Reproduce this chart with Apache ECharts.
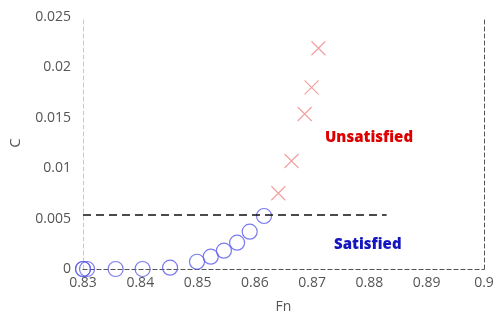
<!DOCTYPE html>
<html><head><meta charset="utf-8">
<script src="https://cdn.jsdelivr.net/npm/echarts@6/dist/echarts.min.js"></script>
<style>html,body{margin:0;padding:0;background:#fff}#c{width:499px;height:320px}</style>
</head><body><div id="c"></div>
<script>
var xTicks = [0.83, 0.84, 0.85, 0.86, 0.87, 0.88, 0.89, 0.9];
var yTicks = [0, 0.005, 0.01, 0.015, 0.02, 0.025];
var satisfiedFn = [0.83, 0.83, 0.8307, 0.8357, 0.8404, 0.8452, 0.8499, 0.8523, 0.8546, 0.8569, 0.8591, 0.8616];
var satisfiedC  = [0, 0, 0, 0, 0, 0.00013, 0.00072, 0.00122, 0.00182, 0.00261, 0.0037, 0.00526];
var unsatFn = [0.8641, 0.8664, 0.8687, 0.8699, 0.8711];
var unsatC  = [0.00751, 0.01071, 0.01538, 0.01802, 0.0219];
var limitC = 0.0054;
var limitFn = [0.83, 0.883];

var font = '"Open Sans", "Noto Sans", sans-serif';
var chart = echarts.init(document.getElementById('c'));
function zip(a, b) { return a.map(function (v, i) { return [v, b[i]]; }); }
var crossPath = 'path://M0,0L10,10M10,0L0,10';
chart.setOption({
  animation: false,
  grid: { left: 83, right: 15, top: 17, bottom: 51 },
  xAxis: [{
    type: 'value', min: 0.83, max: 0.9, interval: 0.01,
    name: 'Fn', nameLocation: 'middle', nameGap: 31,
    nameTextStyle: { color: '#555', fontSize: 14, fontFamily: font, fontWeight: 500 },
    axisLine: { show: true, lineStyle: { color: '#b0b0b0', type: [4, 3], width: 1 } },
    axisTick: { show: false }, splitLine: { show: false },
    axisLabel: { color: '#555', fontSize: 14, fontFamily: font, margin: 7, fontWeight: 500,
      formatter: function (v) { return String(+v.toFixed(2)); } }
  }, {
    type: 'value', position: 'top', min: 0.83, max: 0.9, interval: 0.01,
    axisLine: { show: true, lineStyle: { color: '#555', type: [4, 3], width: 1 } },
    axisTick: { show: false }, axisLabel: { show: false }, splitLine: { show: false }
  }],
  yAxis: [{
    type: 'value', min: 0, max: 0.025, interval: 0.005,
    name: 'C', nameLocation: 'middle', nameGap: 60,
    nameTextStyle: { color: '#555', fontSize: 15, fontFamily: font, fontWeight: 500 },
    axisLine: { show: true, lineStyle: { color: '#c8c8c8', type: [4, 3], width: 1 } },
    axisTick: { show: false }, splitLine: { show: false },
    axisLabel: { color: '#555', fontSize: 14, fontFamily: font, margin: 12, fontWeight: 500,
      formatter: function (v) { return String(+v.toFixed(3)); } }
  }, {
    type: 'value', position: 'right', min: 0, max: 0.025, interval: 0.005,
    axisLine: { show: true, lineStyle: { color: '#555', type: [4, 3], width: 1 } },
    axisTick: { show: false }, axisLabel: { show: false }, splitLine: { show: false }
  }],
  series: [{
    type: 'scatter', data: zip(satisfiedFn, satisfiedC),
    symbol: 'circle', symbolSize: 15,
    itemStyle: { color: 'rgba(0,0,0,0)', borderColor: '#5a5aeb', borderWidth: 1.2 },
    markLine: {
      silent: true, symbol: 'none', label: { show: false },
      lineStyle: { color: '#111', type: [8, 5], width: 1.6 },
      data: [[{ coord: [limitFn[0], limitC] }, { coord: [limitFn[1], limitC] }]]
    },
    z: 3
  }, {
    type: 'scatter', data: zip(unsatFn, unsatC),
    symbol: crossPath, symbolSize: 14,
    itemStyle: { color: 'rgba(0,0,0,0)', borderColor: '#f08a8a', borderWidth: 1.2 }
  }],
  graphic: [{
    type: 'text', left: 325, top: 130,
    style: { text: 'Unsatisfied', fill: '#dd0000', font: '800 15px ' + font }
  }, {
    type: 'text', left: 334, top: 237,
    style: { text: 'Satisfied', fill: '#1515c0', font: '800 15px ' + font }
  }]
});
</script></body></html>
